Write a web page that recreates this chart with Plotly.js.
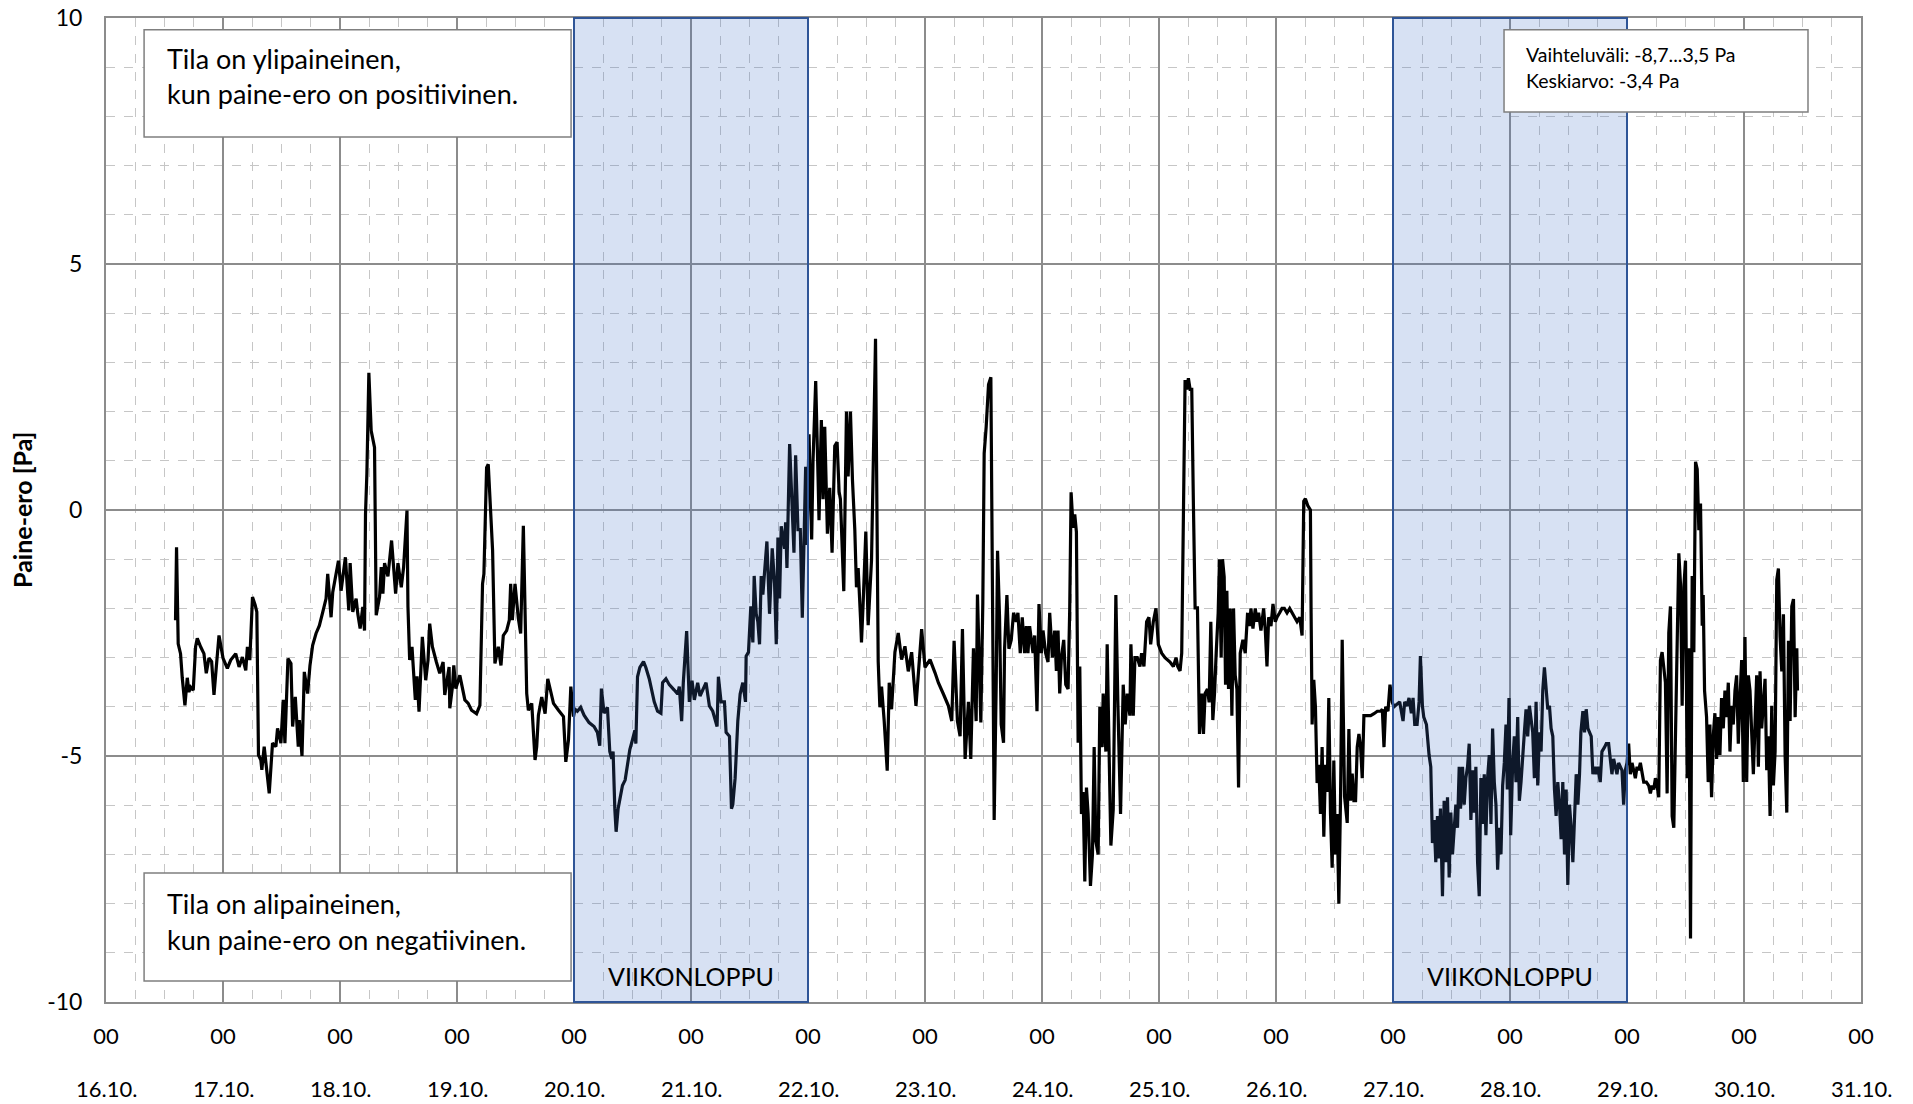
<!DOCTYPE html>
<html>
<head>
<meta charset="utf-8">
<script src="https://cdn.plot.ly/plotly-3.0.1.min.js"></script>
<style>
html,body{margin:0;padding:0;background:#ffffff;}
#chart{width:1913px;height:1104px;}
</style>
</head>
<body>
<div id="chart"></div>
<script>
// ---------- labels ----------
const dayLabels = ['16.10.','17.10.','18.10.','19.10.','20.10.','21.10.','22.10.','23.10.',
                   '24.10.','25.10.','26.10.','27.10.','28.10.','29.10.','30.10.','31.10.'];
const hourLabel = '00';
const yTickVals = [-10, -5, 0, 5, 10];
const yTickText = ['-10', '-5', '0', '5', '10'];
const yTitle = 'Paine-ero [Pa]';
const weekendStarts = ['20.10.', '27.10.'];
const weekendEnds = ['22.10.', '29.10.'];
const weekendLabel = 'VIIKONLOPPU';
const noteOver = ['Tila on ylipaineinen,', 'kun paine-ero on positiivinen.'];
const noteUnder = ['Tila on alipaineinen,', 'kun paine-ero on negatiivinen.'];
const statsNote = ['Vaihteluväli: -8,7...3,5 Pa', 'Keskiarvo: -3,4 Pa'];
const year = 2018;

// ---------- data: hours since 16.10. 00:00 and pressure difference [Pa] ----------
// 16.10. – 19.10.
const hoursA = [14.26,14.47,14.81,15.29,15.64,16.19,16.67,17.01,17.36,17.90,
18.38,18.72,19.41,20.09,20.57,21.12,21.67,22.15,22.63,23.18,
24.00,24.89,25.58,26.61,27.30,27.98,28.67,29.01,29.50,30.05,
30.59,30.94,31.28,31.76,31.97,32.45,33.48,33.82,34.16,34.85,
35.19,35.88,36.36,36.70,37.32,37.94,38.28,38.83,39.44,39.65,
40.20,40.68,41.36,41.84,42.39,43.08,43.76,44.45,45.14,45.48,
45.82,46.17,46.51,47.68,48.22,49.11,49.80,50.08,50.62,51.31,
51.65,52.13,52.68,53.03,53.23,53.51,53.92,54.40,55.08,55.43,
56.11,56.46,56.80,57.14,57.83,58.58,59.41,59.89,60.57,61.05,
61.74,61.94,62.29,62.77,63.45,63.80,64.21,64.89,65.58,66.06,
66.40,66.95,67.77,68.46,69.15,69.49,70.38,70.52,71.07,71.34,
71.76,72.58,73.61,74.30,74.98,76.01,76.70,77.24,77.52,78.07,
78.41,78.89,79.30,79.78,80.47,81.02,81.50,82.18,82.73,83.01,
83.35,83.90,84.58,85.06,85.61,86.30,86.64,87.33,88.01,88.35,
88.70,89.38,90.07,90.62,91.79,92.82,93.84,94.32,94.87,95.35,
95.90];
const paA = [-2.24,-0.76,-2.72,-2.92,-3.41,-3.97,-3.41,-3.70,-3.60,-3.66,
-2.78,-2.61,-2.78,-2.92,-3.32,-3.01,-3.08,-3.76,-3.19,-2.55,
-3.01,-3.22,-3.05,-2.92,-3.19,-2.99,-3.26,-2.78,-3.05,-1.77,
-1.93,-2.07,-4.98,-5.08,-5.28,-4.81,-5.76,-5.15,-4.74,-4.81,
-4.44,-4.74,-3.86,-4.74,-3.02,-3.12,-4.40,-3.80,-4.81,-4.27,
-5.00,-3.29,-3.73,-3.16,-2.75,-2.51,-2.35,-2.08,-1.80,-1.30,
-1.84,-2.18,-1.67,-1.03,-1.64,-0.96,-2.04,-1.08,-2.07,-1.80,
-2.11,-2.41,-1.97,-2.45,-0.08,0.73,2.79,1.61,1.27,-2.14,
-1.77,-1.16,-1.70,-1.08,-1.35,-0.62,-1.70,-1.08,-1.57,-1.16,
-0.01,-1.97,-3.05,-2.78,-3.86,-3.38,-4.10,-2.58,-3.46,-3.05,
-2.31,-2.78,-3.09,-3.32,-3.09,-3.76,-3.19,-4.03,-3.59,-3.16,
-3.63,-3.36,-3.86,-3.93,-4.07,-4.14,-3.97,-1.50,-1.30,0.86,
0.93,0.05,-0.82,-3.12,-2.78,-3.16,-2.55,-2.45,-2.24,-1.50,
-2.24,-1.50,-2.20,-2.51,-0.32,-3.73,-4.07,-3.93,-5.08,-4.81,
-4.17,-3.80,-4.14,-3.43,-3.93,-4.07,-4.20,-5.12,-4.67,-3.59,
-4.20];

// 20.10. – 23.10.
const hoursB = [96.21,96.69,97.37,98.06,99.09,100.11,100.80,101.28,101.62,102.17,
102.86,103.34,103.75,104.02,104.37,104.64,105.05,105.46,105.94,106.49,
106.97,107.45,108.00,108.48,108.69,109.03,109.51,110.26,110.74,111.43,
112.46,113.14,113.83,114.17,114.86,115.54,116.57,117.26,117.60,118.08,
118.42,119.11,119.66,120.21,120.69,121.37,121.85,122.40,123.09,123.77,
124.46,125.35,125.62,126.17,126.86,127.20,127.89,128.30,128.57,129.05,
129.60,130.08,130.63,131.18,131.31,131.79,132.27,132.69,132.96,133.37,
133.71,134.06,134.40,134.74,135.57,136.11,136.66,137.14,137.49,137.83,
138.17,138.51,139.20,139.41,139.68,140.23,141.12,141.46,141.94,142.42,
142.83,143.52,143.79,144.21,144.75,145.03,145.58,146.06,146.26,146.74,
147.09,147.43,147.98,148.46,148.94,149.49,149.97,150.38,150.65,151.34,
151.89,152.23,152.71,153.12,153.60,153.94,154.29,154.77,154.97,155.32,
155.86,156.34,157.03,157.85,158.40,158.74,159.09,159.63,160.25,160.66,
161.14,161.83,162.51,163.20,163.89,164.57,165.26,166.15,167.31,168.00,
169.03,170.06,170.74,171.77,172.80,173.49,173.97,174.65,175.20,175.68,
176.23,176.91,177.39,177.94,178.49,178.76,179.45,179.86,180.14,180.55,
181.03,181.51,181.92,182.19,182.61,182.88];
const paB = [-4.05,-4.09,-4.01,-4.17,-4.32,-4.40,-4.52,-4.79,-3.63,-4.13,
-4.01,-4.91,-5.06,-4.91,-6.07,-6.54,-6.07,-5.84,-5.60,-5.49,
-5.22,-4.87,-4.67,-4.48,-4.75,-3.39,-3.20,-3.08,-3.20,-3.43,
-3.90,-4.09,-4.13,-3.51,-3.43,-3.55,-3.66,-3.74,-3.59,-4.29,
-3.51,-2.46,-3.90,-3.47,-3.86,-3.51,-3.78,-3.66,-3.51,-3.98,
-4.09,-4.40,-3.39,-3.90,-3.90,-4.52,-4.60,-6.07,-5.99,-5.45,
-4.29,-3.74,-3.51,-3.90,-2.97,-2.89,-1.96,-2.69,-1.34,-2.11,
-2.27,-2.73,-1.34,-1.72,-0.64,-2.11,-0.78,-1.49,-2.73,-0.56,
-1.80,-0.33,-0.79,-0.25,-1.18,1.34,-0.87,1.11,-0.40,-0.40,
-2.19,0.88,-0.71,1.54,-0.60,0.99,2.62,0.68,-0.21,1.83,
0.22,1.69,-0.48,0.45,-0.87,1.30,1.38,0.37,0.22,-1.65,
2.00,0.68,2.00,0.61,-0.40,-1.57,-1.18,-2.19,-2.69,-1.88,
-0.44,-2.34,-1.02,3.48,-3.08,-4.01,-3.59,-4.29,-5.30,-3.51,
-4.05,-2.89,-2.50,-3.04,-2.77,-3.28,-2.89,-3.98,-2.42,-3.20,
-3.04,-3.31,-3.51,-3.74,-3.98,-4.29,-2.66,-4.29,-4.60,-2.42,
-5.06,-3.90,-5.06,-2.81,-4.29,-1.72,-4.32,-1.88,1.15,1.69,
2.55,2.70,-1.96,-6.30,-3.51,-0.83];

// 23.10. – 26.10.
const hoursC = [183.29,183.63,184.11,184.32,184.80,185.21,185.69,186.17,186.72,187.06,
187.54,187.95,188.43,188.78,189.12,189.46,190.15,190.49,190.97,191.38,
191.86,192.21,192.75,193.23,193.58,194.13,194.61,194.95,195.29,195.63,
195.98,196.46,196.87,197.35,197.69,197.97,198.38,198.72,199.06,199.41,
199.75,200.09,200.43,200.78,201.12,201.46,201.94,202.35,202.70,203.04,
203.52,203.86,204.34,204.55,205.10,205.37,205.78,206.13,206.61,207.15,
207.56,208.11,208.66,209.07,209.48,210.03,210.24,210.72,211.06,211.54,
212.09,212.43,212.91,213.46,213.94,214.29,214.83,215.38,215.86,216.55,
217.23,218.26,218.95,219.50,219.84,220.32,220.66,221.01,221.35,221.69,
222.03,222.38,222.72,223.06,223.41,223.89,224.30,224.78,225.12,225.46,
225.94,226.29,226.63,227.04,227.39,227.73,228.14,228.41,228.75,229.03,
229.37,229.65,229.92,230.26,230.61,230.95,231.29,231.63,231.98,232.32,
232.66,233.21,233.69,234.17,234.59,234.86,235.27,235.75,236.09,236.43,
236.91,237.46,237.81,238.15,238.49,238.97,239.38,239.86,240.21,240.75,
241.23,241.71,242.26,242.81,243.29,243.77,244.32,244.87,245.35,245.69,
246.03,246.51,247.06,247.20,247.41,247.75,248.09,248.43,248.78,249.12,
249.46,249.81,250.15,250.49,250.83,251.18,251.52,251.86,252.21,252.55,
252.89,253.23,253.58,254.06,254.61,254.95,255.29,255.63,255.98,256.32,
256.66,257.01,257.35,257.69,258.03,258.72,259.41,260.09,260.78,261.46,
261.81,262.15,262.49,262.97,263.38,263.86,264.21];
const paC = [-2.18,-4.36,-4.73,-2.82,-1.73,-2.82,-2.64,-2.09,-2.27,-2.09,
-2.91,-2.18,-2.91,-2.36,-2.91,-2.36,-2.91,-2.55,-4.09,-1.91,
-2.91,-2.45,-2.91,-3.09,-2.09,-3.00,-2.45,-3.27,-2.45,-3.73,
-3.00,-2.64,-3.55,-3.64,-1.99,0.36,-0.36,-0.09,-0.45,-4.73,
-3.18,-6.18,-5.73,-7.55,-5.64,-6.18,-7.64,-7.00,-4.82,-6.73,
-7.00,-4.00,-4.82,-3.73,-4.91,-2.73,-5.00,-6.82,-6.09,-1.73,
-3.91,-6.18,-3.55,-4.36,-3.73,-4.18,-2.73,-4.18,-3.00,-3.00,
-3.18,-2.91,-3.18,-2.27,-2.18,-2.73,-2.27,-2.00,-2.73,-2.91,
-3.00,-3.09,-3.18,-3.00,-3.18,-3.27,-2.91,-0.45,2.64,2.45,
2.68,2.45,2.45,0.09,-1.99,-1.99,-4.55,-3.73,-4.55,-3.73,
-3.64,-3.91,-2.27,-4.27,-3.73,-2.91,-2.09,-1.00,-3.00,-1.00,
-1.36,-3.55,-1.64,-3.64,-2.00,-4.18,-2.00,-3.36,-3.64,-5.64,
-2.91,-2.64,-2.91,-2.09,-2.36,-2.00,-2.41,-2.00,-2.27,-2.09,
-2.45,-2.00,-2.45,-3.18,-2.18,-2.36,-1.91,-2.27,-2.18,-2.09,
-2.00,-2.00,-2.09,-2.00,-2.09,-2.18,-2.27,-2.18,-2.55,0.18,
0.23,0.09,0.00,-2.09,-4.36,-3.45,-4.00,-5.55,-5.18,-6.18,
-4.82,-6.64,-5.18,-5.73,-3.82,-6.18,-7.27,-5.09,-7.00,-6.18,
-8.00,-5.91,-2.64,-5.82,-6.36,-4.45,-5.91,-5.36,-5.91,-5.91,
-4.82,-4.55,-4.82,-5.45,-4.18,-4.18,-4.18,-4.14,-4.09,-4.09,
-4.05,-4.82,-4.00,-4.09,-3.55,-3.91,-4.00];

// 27.10. – 30.10.
const hoursD = [265.37,265.71,266.06,266.40,266.88,267.29,267.77,268.11,268.46,268.94,
269.35,269.62,270.03,270.31,270.86,271.40,271.75,272.09,272.43,272.78,
273.12,273.46,273.74,274.15,274.49,274.83,275.18,275.52,275.86,276.20,
276.55,276.89,277.23,277.58,277.85,278.26,278.60,278.95,279.29,279.63,
279.98,280.32,280.66,281.00,281.35,281.69,282.03,282.38,282.72,283.06,
283.40,283.75,284.09,284.43,284.78,285.12,285.46,285.80,286.15,286.49,
286.83,287.18,287.45,287.79,288.14,288.55,288.89,289.23,289.58,289.92,
290.26,290.60,290.95,291.29,291.63,291.98,292.32,292.66,293.00,293.35,
293.69,294.03,294.38,294.72,295.06,295.40,295.75,296.09,296.43,296.78,
297.12,297.46,297.80,298.15,298.49,298.83,299.18,299.52,299.86,300.20,
300.55,300.89,301.23,301.58,301.92,302.26,302.54,302.95,303.29,303.63,
303.98,304.32,304.66,305.00,305.35,305.69,306.03,306.51,306.86,307.34,
307.75,308.23,308.57,308.91,309.26,309.60,309.94,310.28,310.63,310.97,
311.31,311.66,312.00,312.34,312.68,313.03,313.37,313.71,314.06,314.40,
314.74,315.08,315.43,315.97,316.45,316.80,317.14,317.48,317.83,318.17,
318.51,318.86,319.20,319.54,319.88,320.23,320.57,320.91,321.26,321.60,
321.94,322.28,322.63,322.97,323.31,323.66,324.00,324.34,324.68,325.03,
325.37,325.71,326.06,326.40,326.74,327.08,327.43,327.63,327.91,328.32,
328.66,329.00,329.35,329.69,330.03,330.38,330.72,331.06,331.40,331.75,
332.09,332.43,332.78,333.12,333.46,333.80,334.15,334.49,334.83,335.18,
335.52,335.86,336.20,336.55,336.89,337.23,337.58,337.92,338.26,338.60,
338.95,339.29,339.63,339.98,340.32,340.66,341.00,341.35,341.69,342.03,
342.38,342.72,343.06,343.40,343.75,344.09,344.43,344.78,345.12,345.46,
345.80,346.15,346.49,346.83,346.97];
const paD = [-3.90,-4.13,-4.29,-3.90,-3.98,-3.82,-4.13,-3.82,-4.36,-4.36,
-3.90,-2.97,-3.98,-4.21,-4.36,-4.98,-5.22,-6.77,-6.30,-7.16,
-6.22,-7.08,-6.07,-7.85,-5.91,-7.16,-5.84,-7.47,-6.15,-7.00,
-6.46,-5.99,-6.46,-5.22,-6.07,-5.22,-5.99,-5.45,-5.22,-4.75,
-6.30,-5.29,-6.15,-5.22,-7.16,-7.85,-5.45,-6.38,-5.37,-6.61,
-5.45,-4.98,-6.38,-4.44,-5.53,-5.99,-7.31,-6.46,-7.00,-5.60,
-5.14,-4.36,-5.68,-3.82,-6.61,-5.14,-4.60,-5.53,-4.21,-5.91,
-5.53,-4.91,-4.52,-4.05,-4.60,-3.98,-4.29,-4.52,-5.45,-3.90,
-5.60,-4.52,-4.91,-3.67,-3.20,-3.67,-4.05,-3.98,-4.44,-4.60,
-5.68,-6.22,-5.53,-5.99,-6.69,-5.53,-7.00,-5.68,-7.62,-5.99,
-6.46,-7.16,-6.07,-5.37,-5.99,-5.37,-4.52,-4.09,-4.52,-4.05,
-4.44,-4.52,-4.60,-5.37,-5.22,-5.37,-5.22,-5.53,-4.91,-4.83,
-4.75,-4.75,-5.14,-5.37,-5.06,-5.22,-5.37,-5.14,-5.22,-5.29,
-5.99,-5.29,-5.14,-4.75,-5.37,-5.14,-5.29,-5.45,-5.22,-5.29,
-5.14,-5.37,-5.53,-5.53,-5.60,-5.76,-5.60,-5.68,-5.45,-5.60,
-5.84,-3.05,-2.89,-3.20,-3.51,-5.76,-2.50,-1.96,-6.22,-6.46,
-4.44,-3.36,-0.88,-1.50,-3.98,-1.57,-1.03,-5.45,-2.81,-8.71,
-1.34,-2.89,0.98,0.83,-0.41,0.13,-2.35,-1.73,-3.67,-4.21,
-5.53,-4.36,-5.84,-4.60,-4.13,-5.06,-4.21,-4.98,-3.82,-4.44,
-3.67,-4.21,-3.51,-4.91,-3.98,-4.36,-3.67,-3.36,-4.75,-3.82,
-3.05,-5.53,-2.58,-5.53,-3.36,-3.67,-4.44,-5.37,-4.36,-3.36,
-5.22,-3.28,-4.44,-3.98,-3.43,-5.29,-4.60,-6.22,-3.98,-5.60,
-4.91,-1.42,-1.19,-2.58,-3.28,-2.12,-4.98,-6.15,-2.66,-4.29,
-1.96,-1.81,-4.21,-2.81,-3.67];

// ---------- helpers ----------
function pad(n){ return (n < 10 ? '0' : '') + n; }
function labelToDate(lbl){ const p = lbl.split('.'); return year + '-' + p[1] + '-' + p[0]; }
const t0 = Date.UTC(year, 9, 16, 0, 0, 0);
function hoursToDate(h){
  const d = new Date(t0 + Math.round(h * 3600000));
  return d.getUTCFullYear() + '-' + pad(d.getUTCMonth()+1) + '-' + pad(d.getUTCDate()) + ' ' +
         pad(d.getUTCHours()) + ':' + pad(d.getUTCMinutes()) + ':' + pad(d.getUTCSeconds());
}

const hoursAll = hoursA.concat(hoursB, hoursC, hoursD);
const paAll = paA.concat(paB, paC, paD);

const trace = {
  type: 'scatter', mode: 'lines',
  x: hoursAll.map(hoursToDate), y: paAll,
  line: {color: '#000000', width: 3.2},
  hoverinfo: 'x+y'
};

const tickVals = dayLabels.map(labelToDate);
const tickText = dayLabels.map(() => hourLabel);

const FONT = 'Lato, "Open Sans", sans-serif';
const majorGrid = '#8C8C8C';
const minorGrid = '#C6C6C6';

const shapes = [];
weekendStarts.forEach((s, i) => {
  shapes.push({type: 'rect', xref: 'x', yref: 'paper',
    x0: labelToDate(s), x1: labelToDate(weekendEnds[i]), y0: 0, y1: 1,
    fillcolor: 'rgba(68,114,196,0.21)', line: {color: '#2F5597', width: 2}, layer: 'above'});
});
// note boxes
const boxes = [
  {x0: 0.0217, x1: 0.265, y0: 0.879, y1: 0.988},
  {x0: 0.0217, x1: 0.265, y0: 0.0213, y1: 0.131},
  {x0: 0.7966, x1: 0.9698, y0: 0.9045, y1: 0.988}
];
boxes.forEach(b => shapes.push({type: 'rect', xref: 'paper', yref: 'paper',
  x0: b.x0, x1: b.x1, y0: b.y0, y1: b.y1, fillcolor: '#FFFFFF',
  line: {color: '#7F7F7F', width: 1.5}, layer: 'above'}));

const annotations = [];
function addText(txt, x, y, size){
  annotations.push({text: txt, xref: 'paper', yref: 'paper', x: x, y: y,
    xanchor: 'left', yanchor: 'middle', showarrow: false,
    font: {family: FONT, size: size, color: '#000'}});
}
addText(noteOver[0], 0.0336, 0.9588, 27);
addText(noteOver[1], 0.0336, 0.9228, 27);
addText(noteUnder[0], 0.0336, 0.0996, 27);
addText(noteUnder[1], 0.0336, 0.0640, 27);
addText(statsNote[0], 0.808, 0.9624, 19.5);
addText(statsNote[1], 0.808, 0.9365, 19.5);

weekendStarts.forEach((s, i) => {
  const a = Date.parse(labelToDate(s) + 'T00:00:00Z');
  const b = Date.parse(labelToDate(weekendEnds[i]) + 'T00:00:00Z');
  const mid = new Date((a + b) / 2);
  const midStr = mid.getUTCFullYear() + '-' + pad(mid.getUTCMonth()+1) + '-' + pad(mid.getUTCDate());
  annotations.push({text: weekendLabel, xref: 'x', yref: 'y', x: midStr, y: -9.47,
    xanchor: 'center', yanchor: 'middle', showarrow: false,
    font: {family: FONT, size: 25, color: '#000'}});
});

// date row under the hour ticks
dayLabels.forEach((d, i) => {
  annotations.push({text: d, xref: 'x', yref: 'paper', x: tickVals[i], y: -0.0884,
    xanchor: 'center', yanchor: 'middle', showarrow: false,
    font: {family: FONT, size: 22, color: '#000'}});
});

annotations.push({text: '<b>' + yTitle + '</b>', xref: 'paper', yref: 'paper',
  x: -0.0479, y: 0.5, xanchor: 'center', yanchor: 'middle', textangle: -90,
  showarrow: false, font: {family: FONT, size: 25, color: '#000'}});

const layout = {
  width: 1913, height: 1104,
  margin: {l: 106, r: 52, t: 18, b: 102, pad: 0},
  paper_bgcolor: '#FFFFFF', plot_bgcolor: '#FFFFFF',
  font: {family: FONT, color: '#000000'},
  showlegend: false,
  xaxis: {
    type: 'date',
    range: [labelToDate(dayLabels[0]) + ' 00:00', labelToDate(dayLabels[dayLabels.length-1]) + ' 00:00'],
    tickmode: 'array', tickvals: tickVals, ticktext: tickText,
    tickfont: {family: FONT, size: 22, color: '#000'},
    ticks: '', ticklabelstandoff: 14,
    showgrid: true, gridcolor: majorGrid, gridwidth: 1.6,
    showline: true, mirror: true, linecolor: majorGrid, linewidth: 2,
    zeroline: false, fixedrange: true,
    minor: {tickmode: 'linear', tick0: labelToDate(dayLabels[0]), dtick: 6*3600000,
            showgrid: true, gridcolor: minorGrid, griddash: 'dash', gridwidth: 1, ticks: ''}
  },
  yaxis: {
    range: [-10, 10],
    tickmode: 'array', tickvals: yTickVals, ticktext: yTickText,
    tickfont: {family: FONT, size: 23, color: '#000'},
    ticks: '', ticklabelstandoff: 17,
    showgrid: true, gridcolor: majorGrid, gridwidth: 1.6,
    showline: true, mirror: true, linecolor: majorGrid, linewidth: 2,
    zeroline: false, fixedrange: true,
    minor: {tickmode: 'linear', tick0: 0, dtick: 1,
            showgrid: true, gridcolor: minorGrid, griddash: 'dash', gridwidth: 1, ticks: ''}
  },
  shapes: shapes,
  annotations: annotations
};

Plotly.newPlot('chart', [trace], layout, {displayModeBar: false, staticPlot: true});
</script>
</body>
</html>
